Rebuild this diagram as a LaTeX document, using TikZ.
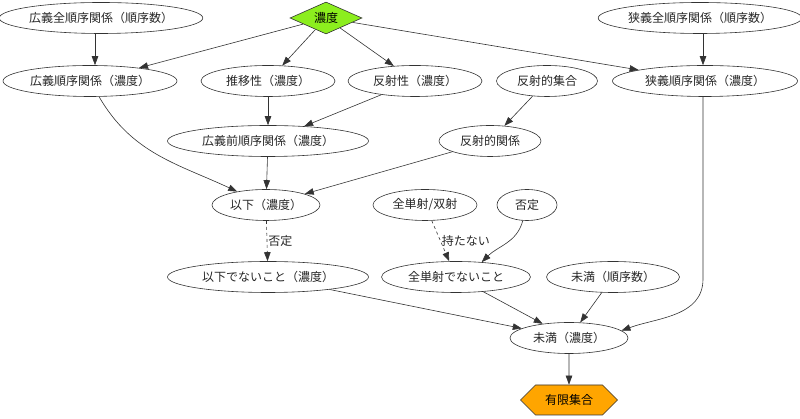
\documentclass[tikz,border=0pt]{standalone}
\usepackage{fontspec}
\setmainfont{Noto Sans CJK JP}
\usetikzlibrary{shapes.geometric,shapes.symbols,arrows.meta}

\definecolor{noudogreen}{RGB}{140,238,30}
\definecolor{yugenorange}{RGB}{255,165,0}

\begin{document}
\begin{tikzpicture}[x=1pt,y=1pt,
  ell/.style={draw=black!80, line width=0.6pt, ellipse, inner sep=0pt,
    minimum height=31pt, font=\fontsize{12}{14}\selectfont, text=black!85},
  arr/.style={draw=black!80, line width=0.6pt,
    -{Triangle[length=9pt,width=6.5pt]}},
  lbl/.style={font=\fontsize{12}{14}\selectfont, text=black!85, inner sep=1pt}]
  \useasboundingbox (0,0) rectangle (800,419);

  % Ausgangspunkt
  \node[diamond, draw=black!80, line width=0.6pt, fill=noudogreen, aspect=2.25,
    minimum width=72pt, minimum height=32pt, inner sep=0pt,
    font=\fontsize{12}{14}\selectfont] (noudo) at (326,401) {濃度};
  \node[ell, minimum width=202pt] (kogiZen) at (101,401) {広義全順序関係（順序数）};
  \node[ell, minimum width=202pt] (kyogiZen) at (700,401) {狭義全順序関係（順序数）};

  % zweite Reihe
  \node[ell, minimum width=174pt] (kogi) at (90,338) {広義順序関係（濃度）};
  \node[ell, minimum width=134pt] (suii) at (268,338) {推移性（濃度）};
  \node[ell, minimum width=134pt] (hansha) at (415,338) {反射性（濃度）};
  \node[ell, minimum width=101pt] (hanShugo) at (547,338) {反射的集合};
  \node[ell, minimum width=185pt] (kyogi) at (705,338) {狭義順序関係（濃度）};

  % dritte Reihe
  \node[ell, minimum width=201pt] (kogiPre) at (268,278) {広義前順序関係（濃度）};
  \node[ell, minimum width=102pt] (hanKankei) at (490,278) {反射的関係};

  % vierte Reihe
  \node[ell, minimum width=108pt] (ika) at (266,214) {以下（濃度）};
  \node[ell, minimum width=104pt] (zentan) at (425,214) {全単射/双射};
  \node[ell, minimum width=60pt] (hitei) at (527,214) {否定};

  % fuenfte Reihe
  \node[ell, minimum width=201pt] (ikaNot) at (268,142) {以下でないこと（濃度）};
  \node[ell, minimum width=149pt] (zentanNot) at (456,142) {全単射でないこと};
  \node[ell, minimum width=133pt] (mimanOrd) at (613,142) {未満（順序数）};

  % unten
  \node[ell, minimum width=118pt] (miman) at (569,81) {未満（濃度）};
  \node[signal, signal to=west and east, signal pointer angle=90, draw=black!80,
    line width=0.6pt, fill=yugenorange, minimum width=97pt, minimum height=30pt,
    inner sep=0pt, font=\fontsize{12}{14}\selectfont] (yugen) at (569,19) {有限集合};

  % Pfeile oben
  \draw[arr] ([xshift=-6pt]kogiZen.south) -- ([xshift=5pt]kogi.north);
  \draw[arr] (noudo) -- (kogi);
  \draw[arr] (noudo) -- (suii);
  \draw[arr] (noudo) -- (hansha);
  \draw[arr] (noudo) -- (kyogi);
  \draw[arr] ([xshift=3pt]kyogiZen.south) -- ([xshift=-2pt]kyogi.north);

  % Pfeile Mitte
  \draw[arr] (suii) -- (kogiPre);
  \draw[arr] (hansha) -- (kogiPre);
  \draw[arr] (hanShugo) -- (hanKankei);
  \draw[arr] (kogi) to[out=-60,in=155] (ika);
  \draw[arr] (kogiPre) -- (ika);
  \draw[arr] (hanKankei) -- (ika);

  % Verneinung
  \draw[arr, dashed] (ika) -- node[lbl, right] (lblHitei) {否定} (ikaNot);
  \draw[arr, dashed] (zentan) -- node[lbl, right] (lblMotanai) {持たない} (zentanNot);
  \draw[arr] (hitei) to[out=-105,in=45] (zentanNot.30);

  % Pfeile unten
  \coordinate (kyBend) at (703,140);
  \draw[arr] (kyogi.south -| kyBend) -- (kyBend) to[out=-90,in=20] (miman.8);
  \draw[arr] (ikaNot) -- (miman);
  \draw[arr] (zentanNot) -- (miman);
  \draw[arr] (mimanOrd) -- (miman);
  \draw[arr] (miman) -- (yugen);
\end{tikzpicture}
\end{document}
